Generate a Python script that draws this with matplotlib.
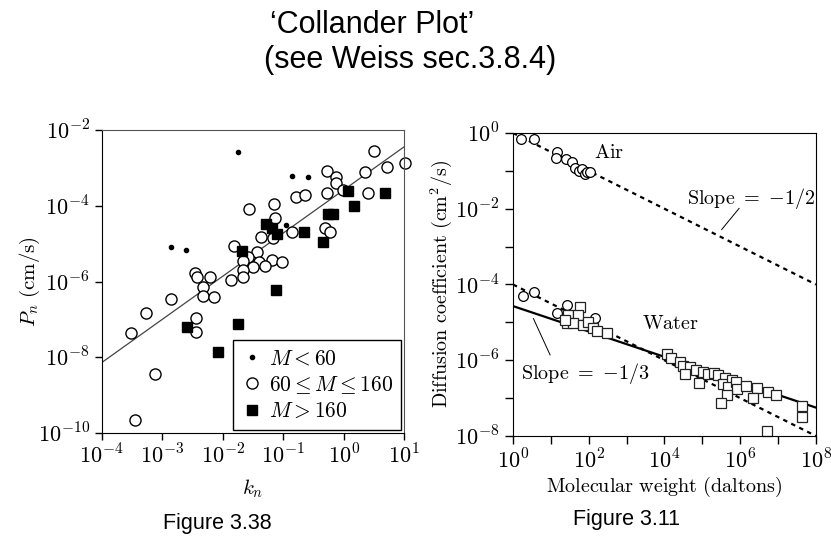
import numpy as np
import matplotlib.pyplot as plt

plt.rcParams['mathtext.fontset'] = 'cm'
plt.rcParams['font.family'] = 'serif'

# ---- Figure 3.38 (Collander plot), values as log10 ----
small_logk = [-1.753, -0.851, -0.586, -2.855, -2.607, -0.960]
small_logP = [-2.573, -3.222, -3.241, -5.089, -5.160, -4.508]

mid_logk = [0.504, 1.012, 0.719, 0.351, -0.282, -0.129, -0.129, -0.013, -0.272, 0.405,
            -0.794, -0.636, -1.153, -1.561, -1.132, -0.310, -0.228, -0.851, -1.368, -1.174,
            -1.809, -1.439, -1.578, -1.660, -1.401, -1.191, -1.026, -1.495, -1.302, -1.660,
            -1.660, -2.458, -2.430, -2.211, -1.863, -2.321, -2.321, -2.144, -2.860, -3.268,
            -3.524, -2.447, -2.447, -3.119, -3.458]
mid_logP = [-2.546, -2.879, -2.985, -3.101, -3.090, -3.233, -3.391, -3.584, -3.671, -3.671,
            -3.761, -3.716, -3.961, -4.093, -4.331, -4.595, -4.685, -4.701, -4.817, -4.843,
            -5.062, -5.213, -5.345, -5.450, -5.477, -5.432, -5.485, -5.609, -5.590, -5.696,
            -5.873, -5.767, -5.873, -5.881, -5.960, -6.137, -6.395, -6.401, -6.454, -6.844,
            -7.367, -6.950, -7.325, -8.449, -9.661]

big_logk = [0.065, 0.681, 0.164, -0.261, -0.173, -1.285, -1.183, -1.108, -0.657, -0.348,
            -1.678, -1.112, -2.586, -1.748, -2.073]
big_logP = [-3.610, -3.650, -4.006, -4.210, -4.210, -4.474, -4.587, -4.746, -4.698, -4.949,
            -5.200, -6.216, -7.193, -7.129, -7.853]

fit_logk = [-4, 1]
fit_logP = [-8.14, -2.44]

# ---- Figure 3.11 (diffusion coefficient), values as log10 ----
air_logM = [0.21, 0.55, 1.16, 1.13, 1.40, 1.56, 1.64, 1.74, 1.82, 1.90, 1.95, 2.03]
air_logD = [-0.17, -0.17, -0.51, -0.67, -0.69, -0.77, -0.93, -1.01, -0.96, -1.09, -1.04, -1.04]

water_circ_logM = [0.26, 0.55, 1.16, 1.42, 2.16]
water_circ_logD = [-4.31, -4.20, -4.76, -4.55, -4.89]

water_sq_logM = [1.77, 1.45, 1.72, 1.42, 1.58, 1.85, 1.98, 1.37, 2.11, 2.22, 2.48,
                 4.06, 4.17, 4.41, 4.49, 4.67, 4.54, 4.83, 4.91, 5.01, 5.15, 5.30, 5.41,
                 5.59, 5.54, 5.78, 5.67, 5.88, 5.91, 5.65, 5.49, 6.15, 6.44, 6.33, 6.73,
                 6.94, 7.63, 7.63, 6.70]
water_sq_logD = [-4.60, -4.81, -4.81, -5.02, -5.02, -5.07, -4.99, -4.94, -5.15, -5.23, -5.29,
                 -5.84, -5.94, -6.05, -6.16, -6.18, -6.36, -6.26, -6.60, -6.31, -6.37, -6.34,
                 -6.39, -6.47, -6.63, -6.53, -6.71, -6.58, -6.76, -6.92, -7.13, -6.68, -6.74,
                 -7.00, -6.84, -6.92, -7.21, -7.50, -7.87]

air_line_logM = [0, 8]
air_line_logD = [0, -4]
water_dash_logD = [-4, -8]
water_solid_logD = [-4.57, -7.25]

P = lambda v: 10.0 ** np.array(v)

fig = plt.figure(figsize=(8.31, 5.40), dpi=100)

fig.text(0.448, 0.939, '\u2018Collander Plot\u2019', family='Liberation Sans', fontsize=22,
         ha='center', va='baseline')
fig.text(0.493, 0.874, '(see Weiss sec.3.8.4)', family='Liberation Sans', fontsize=22,
         ha='center', va='baseline')

# left panel
ax1 = fig.add_axes([0.1224, 0.1981, 0.3641, 0.5611])
ax1.set_xscale('log')
ax1.set_yscale('log')
ax1.plot(P(fit_logk), P(fit_logP), color='#444444', lw=0.9)
ax1.plot(P(small_logk), P(small_logP), 'o', ms=3, color='black', ls='none',
         clip_on=False, label='$M < 60$')
ax1.plot(P(mid_logk), P(mid_logP), 'o', ms=8, mfc='white', mec='black', mew=1.0, ls='none',
         clip_on=False, label=r'$60 \leq M \leq 160$')
ax1.plot(P(big_logk), P(big_logP), 's', ms=7.5, color='black', ls='none',
         clip_on=False, label='$M > 160$')
ax1.set_xlim(1e-4, 1e1)
ax1.set_ylim(1e-10, 1e-2)
xt = [-4, -3, -2, -1, 0, 1]
ax1.set_xticks([10.0 ** e for e in xt])
ax1.set_xticklabels(['$10^{%d}$' % e for e in xt])
yt = [-10, -8, -6, -4, -2]
ax1.set_yticks([10.0 ** e for e in yt])
ax1.set_yticklabels(['$10^{%d}$' % e for e in yt])
ax1.minorticks_off()
ax1.tick_params(direction='out', length=5, width=1, labelsize=16)
ax1.set_xlabel('$k_n$', fontsize=15, labelpad=6)
ax1.set_ylabel(r'$P_n\ \mathrm{(cm/s)}$', fontsize=15, labelpad=-3)
leg = ax1.legend(loc='lower right', fontsize=15.5, fancybox=False, framealpha=1,
                 edgecolor='black', borderaxespad=0.15, handletextpad=0.3,
                 handlelength=1.0, labelspacing=0.2, borderpad=0.35)
leg.get_frame().set_linewidth(1.0)
for s in ['top', 'right']:
    ax1.spines[s].set_color('#555555')

# right panel
ax2 = fig.add_axes([0.6173, 0.1926, 0.3646, 0.5611])
ax2.set_xscale('log')
ax2.set_yscale('log')
ax2.plot(P(air_line_logM), P(air_line_logD), color='black', lw=1.6, ls=(0, (2, 2)))
ax2.plot(P(air_line_logM), P(water_dash_logD), color='black', lw=1.6, ls=(0, (2, 2)))
ax2.plot(P(air_line_logM), P(water_solid_logD), color='black', lw=1.6)
ax2.plot(P(air_logM), P(air_logD), 'o', ms=7, mfc='white', mec='black', mew=0.9,
         ls='none', clip_on=False)
ax2.plot(P(water_circ_logM), P(water_circ_logD), 'o', ms=7, mfc='white', mec='black',
         mew=0.9, ls='none', clip_on=False)
ax2.plot(P(water_sq_logM), P(water_sq_logD), 's', ms=7, mfc='white', mec='#222222',
         mew=0.9, ls='none', clip_on=False)
ax2.set_xlim(1, 1e8)
ax2.set_ylim(1e-8, 1)
ax2.set_xticks([10.0 ** e for e in range(0, 9)])
ax2.set_xticklabels(['$10^{%d}$' % e if e % 2 == 0 else '' for e in range(0, 9)])
ax2.set_yticks([10.0 ** e for e in range(-8, 1)])
ax2.set_yticklabels(['$10^{%d}$' % e if e % 2 == 0 else '' for e in range(-8, 1)])
ax2.minorticks_off()
ax2.tick_params(direction='out', length=6, width=1, labelsize=16)
ax2.set_xlabel(r'$\mathrm{Molecular\ weight\ (daltons)}$', fontsize=14.5, labelpad=1)
ax2.set_ylabel(r'$\mathrm{Diffusion\ coefficient\ (cm^2/s)}$', fontsize=14.5, labelpad=1)

ax2.text(10 ** 2.53, 10 ** -0.51, r'$\mathrm{Air}$', fontsize=14.5, ha='center', va='center')
ax2.text(10 ** 4.17, 10 ** -5.02, r'$\mathrm{Water}$', fontsize=14.5, ha='center', va='center')
ax2.text(10 ** 6.28, 10 ** -1.72, r'$\mathrm{Slope}\ =\ {-}1/2$', fontsize=14.5,
         ha='center', va='center')
ax2.text(10 ** 1.90, 10 ** -6.34, r'$\mathrm{Slope}\ =\ {-}1/3$', fontsize=14.5,
         ha='center', va='center')
ax2.plot([10 ** 5.97, 10 ** 5.51], [10 ** -1.99, 10 ** -2.55], color='black', lw=0.7)
ax2.plot([10 ** 0.98, 10 ** 0.54], [10 ** -5.86, 10 ** -4.90], color='black', lw=0.7)

fig.text(0.261, 1 - 524 / 540, 'Figure 3.38', family='Liberation Sans', fontsize=15.5,
         ha='center', va='center')
fig.text(0.7545, 1 - 519 / 540, 'Figure 3.11', family='Liberation Sans', fontsize=15.5,
         ha='center', va='center')

fig.savefig('out.png', dpi=100)
